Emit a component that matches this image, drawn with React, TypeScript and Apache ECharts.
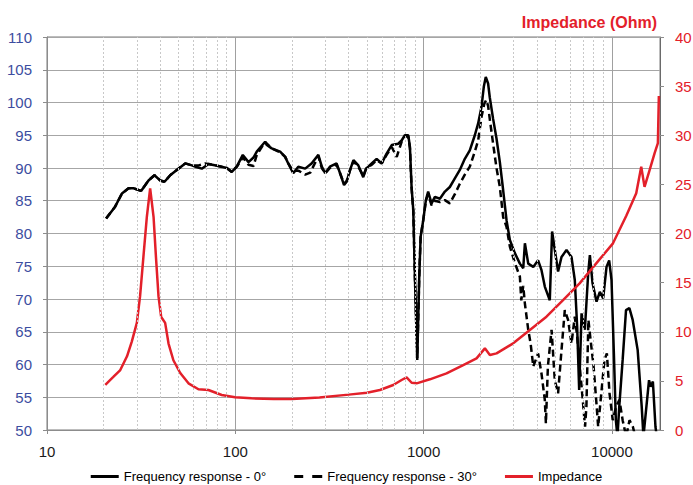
import React, { useEffect, useRef } from 'react';
import * as echarts from 'echarts';

const xTickLabels = ['10', '100', '1000', '10000'];
const minorGridFreq = [20, 30, 40, 50, 60, 70, 80, 90, 200, 300, 400, 500, 600, 700, 800, 900, 2000, 3000, 4000, 5000, 6000, 7000, 8000, 9000];

const fr0Freq = [20.6, 23.0, 25.0, 27.1, 28.8, 31.6, 34.6, 37.2, 39.9, 42.1, 45.1, 48.9, 54.2, 58.8, 61.2, 66.4, 72.0, 81.3, 90.1, 95.8, 101.8, 109.6, 117.5, 124.9, 130, 144, 147, 156, 173, 184, 191, 203, 216, 235, 254, 276, 288, 300, 318, 345, 360, 378, 390, 407, 424, 450, 478, 495, 530, 563, 599, 636, 677, 733, 764, 795, 829, 846, 863, 881, 899, 925, 948, 964, 995, 1028, 1057, 1102, 1148, 1220, 1297, 1378, 1465, 1557, 1655, 1759, 1870, 1948, 2029, 2087, 2138, 2200, 2245, 2339, 2438, 2540, 2645, 2757, 2871, 3052, 3245, 3381, 3450, 3594, 3822, 4055, 4227, 4401, 4678, 4812, 4973, 5177, 5398, 5738, 6100, 6350, 6536, 6699, 6898, 7183, 7479, 7636, 7890, 8285, 8625, 8984, 9360, 9668, 9950, 10240, 10490, 10700, 10940, 11400, 11880, 12380, 12890, 13700, 14390, 14700, 15740, 16100, 16500, 17030, 17300];
const fr0Db = [82.3, 84.1, 86.1, 86.9, 86.9, 86.5, 88.1, 88.9, 88.1, 87.9, 88.9, 89.7, 90.7, 90.4, 90.2, 89.9, 90.6, 90.3, 90.0, 89.4, 90.2, 92.0, 90.9, 91.6, 92.5, 94.0, 93.5, 93.0, 92.5, 91.7, 90.7, 89.2, 90.2, 89.9, 90.7, 92.0, 90.2, 89.2, 90.2, 90.7, 89.2, 87.4, 87.9, 89.7, 91.2, 90.4, 88.6, 89.9, 90.7, 91.4, 90.7, 92.2, 93.5, 93.7, 94.2, 95.0, 95.0, 93.2, 87.1, 83.6, 73.4, 60.7, 73.4, 79.5, 82.0, 85.1, 86.4, 84.6, 85.6, 85.3, 86.4, 87.1, 88.4, 89.7, 91.4, 92.7, 95.0, 96.8, 99.3, 102.4, 103.9, 102.9, 100.8, 97.5, 94.5, 90.9, 86.6, 82.0, 79.0, 77.0, 75.4, 74.7, 78.5, 75.4, 74.9, 75.9, 74.4, 71.9, 69.8, 80.3, 77.5, 74.2, 76.4, 77.5, 76.4, 72.9, 65.8, 56.1, 67.8, 65.3, 73.9, 76.7, 72.4, 69.6, 71.1, 70.1, 74.9, 75.9, 72.9, 61.7, 51.5, 49, 53.6, 60.7, 68.3, 68.6, 66.8, 62.2, 53.6, 49, 57.6, 56.6, 57.4, 50.5, 49];

const fr30Freq = [20.6, 23.0, 25.0, 27.1, 28.8, 31.6, 34.6, 37.2, 39.9, 42.1, 45.1, 48.9, 54.2, 58.8, 64, 69, 76, 81.3, 90.1, 95.8, 101.8, 109.6, 117.5, 124.9, 130, 144, 156, 173, 184, 191, 203, 216, 235, 250, 276, 288, 300, 318, 345, 360, 378, 390, 407, 424, 450, 478, 495, 530, 563, 599, 636, 677, 720, 764, 795, 829, 846, 863, 881, 899, 925, 948, 964, 995, 1028, 1057, 1102, 1148, 1220, 1297, 1378, 1465, 1557, 1655, 1759, 1870, 1948, 2029, 2100, 2150, 2200, 2245, 2339, 2438, 2540, 2645, 2757, 2871, 3052, 3245, 3300, 3381, 3450, 3594, 3700, 3822, 4055, 4227, 4401, 4460, 4570, 4780, 4973, 5177, 5398, 5620, 5850, 6100, 6350, 6536, 6699, 6950, 7200, 7320, 7500, 7700, 7990, 8300, 8450, 8780, 9130, 9400, 9710, 10100, 10530, 10960, 11400, 11900, 12400, 12920, 13300];
const fr30Db = [82.3, 84.1, 86.1, 86.9, 86.9, 86.5, 88.1, 88.9, 88.1, 87.9, 88.9, 89.7, 90.7, 90.4, 90.4, 90.7, 90.5, 90.3, 90.0, 89.4, 90.2, 91.6, 90.5, 90.3, 92.0, 94.0, 93.0, 92.4, 91.7, 90.7, 89.5, 89.6, 89.0, 89.3, 91.8, 90.0, 89.2, 90.0, 90.5, 89.2, 87.6, 88.0, 89.7, 91.0, 90.2, 88.8, 89.9, 90.5, 91.2, 90.7, 92.0, 93.2, 91.7, 94.0, 94.8, 94.8, 93.0, 87.0, 83.5, 73.4, 61.0, 73.4, 79.5, 82.0, 85.0, 86.0, 84.3, 85.0, 84.8, 85.1, 84.6, 86.0, 87.6, 89.0, 90.2, 92.5, 94.2, 97.8, 99.8, 100.4, 99.5, 97.5, 93.7, 90.0, 87.1, 82.5, 81.0, 78.0, 75.5, 73.4, 69.8, 72.0, 69.3, 65.3, 63.2, 59.7, 61.7, 58.6, 54.6, 51.0, 59.7, 65.3, 57.6, 55.6, 62.2, 68.3, 66.8, 63.2, 67.3, 64.3, 60.7, 55.6, 50.5, 53.6, 66.8, 63.8, 59.7, 53.6, 50.5, 55.6, 60.7, 61.7, 55.6, 51.5, 53.6, 54.6, 51.5, 49, 51.5, 50.5, 49];

const impFreq = [20.4, 22.5, 24.5, 26.6, 28.2, 30.0, 31.2, 32.5, 33.9, 35.3, 36.8, 37.9, 39.1, 40.4, 42.4, 44.2, 46.9, 51.0, 56.4, 63.7, 72.0, 84.7, 99.7, 122, 160, 200, 280, 400, 500, 586, 690, 764, 812, 864, 918, 1080, 1323, 1623, 1910, 2115, 2248, 2440, 2990, 3666, 4490, 5502, 6736, 8256, 10130, 11920, 13460, 14310, 14900, 15850, 16840, 17540, 17750];
const impOhm = [4.6, 5.4, 6.1, 7.5, 9.0, 10.9, 13.6, 17.6, 21.7, 24.6, 21.7, 17.6, 13.6, 11.5, 10.9, 8.8, 7.1, 5.8, 4.75, 4.15, 4.07, 3.56, 3.33, 3.22, 3.15, 3.15, 3.3, 3.6, 3.8, 4.07, 4.58, 5.09, 5.36, 4.81, 4.75, 5.16, 5.77, 6.61, 7.29, 8.31, 7.63, 7.8, 8.82, 10.17, 11.53, 13.22, 14.92, 16.96, 19.0, 21.8, 24.1, 26.8, 24.75, 26.45, 28.15, 29.2, 34.0];

const FONT = 'Liberation Sans';
const RED = '#E3202A';
const BLUE = '#3C4DA0';
const ICON_SOLID = 'path://M0 0H28V3H0Z';
const ICON_DASHED = 'path://M0 0H9V3H0Z M18 0H28V3H18Z';

export default function App() {
  const ref = useRef<HTMLDivElement>(null);
  useEffect(() => {
    const chart = echarts.init(ref.current as HTMLDivElement, null, { renderer: 'svg' });
    const zip = (a: number[], b: number[]) => a.map((f, i) => [f, b[i]]);
    chart.setOption({
      animation: false,
      backgroundColor: '#fff',
      textStyle: { fontFamily: FONT },
      title: {
        text: 'Impedance (Ohm)',
        right: 31,
        top: 9,
        textStyle: { color: RED, fontWeight: 'bold', fontSize: 16, fontFamily: FONT },
      },
      legend: {
        top: 470,
        left: 'center',
        padding: 0,
        itemGap: 28,
        itemWidth: 28,
        itemHeight: 3,
        data: [
          { name: 'Frequency response - 0°', icon: ICON_SOLID },
          { name: 'Frequency response - 30°', icon: ICON_DASHED },
          { name: 'Impedance', icon: ICON_SOLID },
        ],
        textStyle: { fontSize: 13, color: '#000', fontFamily: FONT },
      },
      grid: {
        left: 47,
        right: 33,
        top: 37,
        bottom: 55,
        show: true,
        borderColor: '#7a7a7a',
        borderWidth: 1,
        outerBoundsMode: 'none',
      },
      xAxis: {
        type: 'log',
        logBase: 10,
        min: 10,
        max: 18000,
        axisLine: { lineStyle: { color: '#8c8c8c', width: 1 } },
        axisTick: { show: true, length: 4, lineStyle: { color: '#8c8c8c' } },
        axisLabel: {
          fontSize: 15,
          color: '#1a1a1a',
          margin: 14,
          fontFamily: FONT,
          showMaxLabel: false,
          formatter: (v: number) => {
            const s = String(Math.round(v));
            return xTickLabels.indexOf(s) >= 0 ? s : '';
          },
        },
        splitLine: { show: true, lineStyle: { color: '#a0a0a0', width: 1 } },
      },
      yAxis: [
        {
          type: 'value',
          min: 50,
          max: 110,
          interval: 5,
          position: 'left',
          axisLine: { show: true, lineStyle: { color: '#8c8c8c' } },
          axisTick: { show: true, length: 4, lineStyle: { color: '#8c8c8c' } },
          axisLabel: { fontSize: 15, color: BLUE, margin: 15, fontFamily: FONT },
          splitLine: { show: true, lineStyle: { color: '#a6a6a6', width: 1 } },
        },
        {
          type: 'value',
          min: 0,
          max: 40,
          interval: 5,
          position: 'right',
          axisLine: { show: true, lineStyle: { color: '#6a6a6a' } },
          axisTick: { show: true, length: 4, lineStyle: { color: '#8c8c8c' } },
          axisLabel: { fontSize: 15, color: RED, margin: 15, fontFamily: FONT },
          splitLine: { show: false },
        },
      ],
      series: [
        {
          name: 'minor-grid',
          type: 'line',
          data: [],
          z: 1,
          silent: true,
          markLine: {
            silent: true,
            symbol: 'none',
            label: { show: false },
            lineStyle: { color: '#c8c8c8', type: [2, 2], width: 1 },
            data: minorGridFreq.map((f) => ({ xAxis: f })),
          },
        },
        {
          name: 'Frequency response - 0°',
          type: 'line',
          yAxisIndex: 0,
          data: zip(fr0Freq, fr0Db),
          showSymbol: false,
          symbol: 'none',
          clip: true,
          z: 3,
          lineStyle: { color: '#000', width: 2.5 },
          itemStyle: { color: '#000' },
        },
        {
          name: 'Frequency response - 30°',
          type: 'line',
          yAxisIndex: 0,
          data: zip(fr30Freq, fr30Db),
          showSymbol: false,
          symbol: 'none',
          clip: true,
          z: 3,
          lineStyle: { color: '#000', width: 2.5, type: [7, 4] },
          itemStyle: { color: '#000' },
        },
        {
          name: 'Impedance',
          type: 'line',
          yAxisIndex: 1,
          data: zip(impFreq, impOhm),
          showSymbol: false,
          symbol: 'none',
          clip: true,
          z: 4,
          lineStyle: { color: RED, width: 2.5 },
          itemStyle: { color: RED },
        },
      ],
    });
    return () => chart.dispose();
  }, []);
  return <div ref={ref} style={{ position: 'absolute', left: 0, top: 0, width: 693, height: 485 }} />;
}
